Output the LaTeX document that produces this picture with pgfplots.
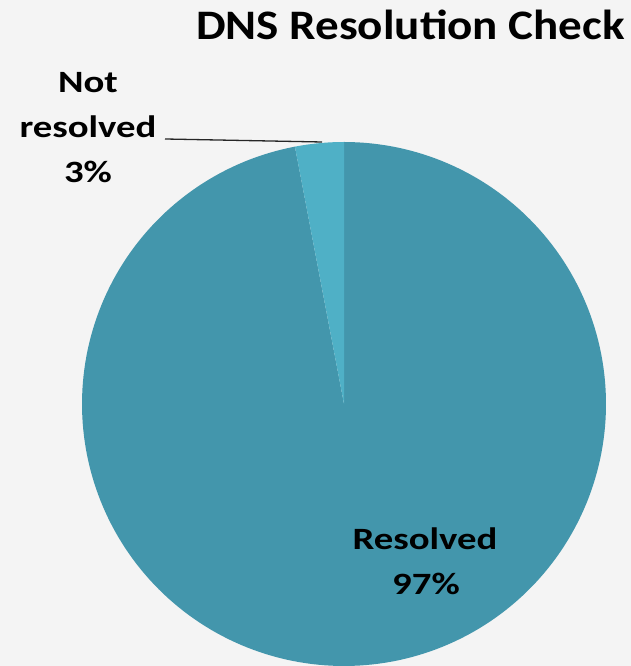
\documentclass[border=0pt]{standalone}
\usepackage{pgfplots}
\pgfplotsset{compat=1.18}
\usepackage{fontspec}
\setmainfont{Carlito}
\newfontfamily\titlefont[FakeStretch=1.12]{Carlito}
\newfontfamily\labelfont[FakeStretch=1.25]{Carlito}
\definecolor{bgc}{HTML}{F4F4F4}
\definecolor{resc}{HTML}{4396AC}
\definecolor{notc}{HTML}{4FB0C6}
% data: share of checks (percent)
\def\valResolved{97}
\def\valNotResolved{3}
\pgfmathsetmacro\angStart{90}
\pgfmathsetmacro\angMid{90-3.6*\valResolved}
\pgfmathsetmacro\angEnd{\angMid-3.6*\valNotResolved}
\begin{document}
\begin{tikzpicture}
\begin{axis}[
  width=631bp, height=666bp, scale only axis,
  xmin=0, xmax=631, ymin=0, ymax=666,
  axis lines=none, xtick=\empty, ytick=\empty,
  axis background/.style={fill=bgc},
  clip=false,
]
\addplot[fill=resc, draw=none, domain=\angStart:\angMid, samples=240, variable=\t]
  ({344+262*cos(\t)},{262+262*sin(\t)}) -- (axis cs:344,262) -- cycle;
\addplot[fill=notc, draw=none, domain=\angMid:\angEnd, samples=20, variable=\t]
  ({344+262*cos(\t)},{262+262*sin(\t)}) -- (axis cs:344,262) -- cycle;
\draw[line width=1.3bp, black!85] (axis cs:165,527) -- (axis cs:322,524);
\node[anchor=base, font=\titlefont\fontsize{42bp}{50bp}\selectfont\bfseries] at (axis cs:410.5,626) {DNS Resolution Check};
\begin{scope}[every node/.style={anchor=base, font=\labelfont\fontsize{31bp}{37bp}\selectfont\bfseries}]
\node at (axis cs:88,573) {Not};
\node at (axis cs:88,528) {resolved};
\node at (axis cs:88,483) {3\%};
\node at (axis cs:425,116) {Resolved};
\node at (axis cs:426,71) {97\%};
\end{scope}
\end{axis}
\end{tikzpicture}
\end{document}
